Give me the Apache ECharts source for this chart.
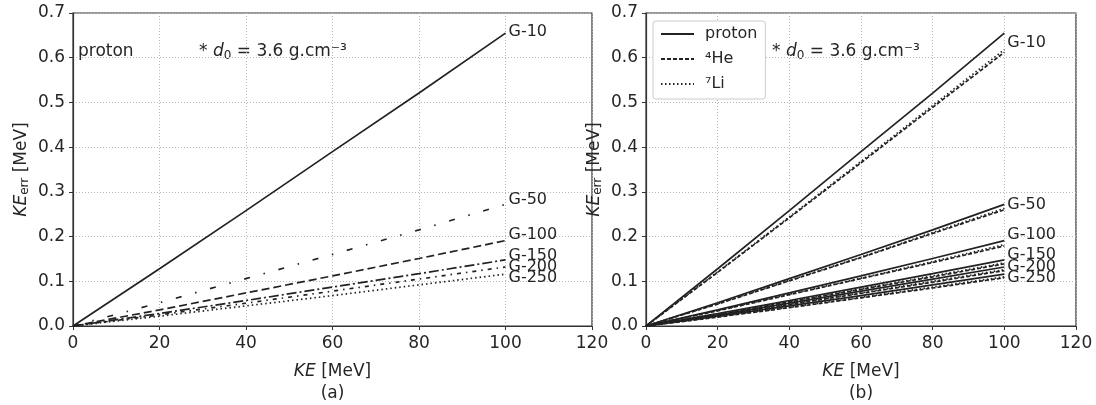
<!DOCTYPE html>
<html>
<head>
<meta charset="utf-8">
<script src="https://cdn.jsdelivr.net/npm/echarts@6/dist/echarts.min.js"></script>
<style>
  html, body { margin: 0; padding: 0; background: #fff; }
  #main { width: 1096px; height: 405px; }
</style>
</head>
<body>
<div id="main"></div>
<script>
// kinetic energy sample points [MeV]
const keVals = [0, 20, 40, 60, 80, 100];
const gNames = ['G-10', 'G-50', 'G-100', 'G-150', 'G-200', 'G-250'];

// KE_err [MeV]
const proton = [
  [0, 0.128, 0.258, 0.390, 0.521, 0.655],
  [0, 0.052, 0.106, 0.160, 0.215, 0.272],
  [0, 0.036, 0.074, 0.112, 0.151, 0.191],
  [0, 0.028, 0.057, 0.087, 0.117, 0.148],
  [0, 0.025, 0.051, 0.078, 0.105, 0.132],
  [0, 0.022, 0.045, 0.068, 0.092, 0.116]
];
const he4 = [
  [0, 0.120, 0.242, 0.365, 0.489, 0.612],
  [0, 0.049, 0.101, 0.153, 0.207, 0.260],
  [0, 0.034, 0.070, 0.106, 0.142, 0.179],
  [0, 0.026, 0.054, 0.082, 0.110, 0.139],
  [0, 0.023, 0.048, 0.073, 0.098, 0.124],
  [0, 0.020, 0.041, 0.063, 0.085, 0.108]
];
const li7 = [
  [0, 0.121, 0.244, 0.368, 0.493, 0.618],
  [0, 0.050, 0.102, 0.154, 0.209, 0.263],
  [0, 0.035, 0.071, 0.107, 0.144, 0.182],
  [0, 0.027, 0.055, 0.083, 0.112, 0.141],
  [0, 0.024, 0.049, 0.074, 0.100, 0.126],
  [0, 0.021, 0.042, 0.064, 0.087, 0.110]
];
// where the G-xx labels sit (y in MeV, at KE = 100)
const labelYa = [0.658, 0.282, 0.203, 0.157, 0.132, 0.107];
const labelYb = [0.633, 0.271, 0.203, 0.159, 0.132, 0.107];

const ink = '#222';
const txt = '#262626';
const font = 'DejaVu Sans';
// line styles of panel (a)
const dashA = ['solid', [6, 14, 1.5, 14], [8, 4], [10, 3, 2, 3], [4, 5, 1.5, 5], [1.5, 3]];

const pairs = ys => keVals.map((x, i) => [x, ys[i]]);

function lineSeries(name, ys, idx, type) {
  return {
    name: name, type: 'line', xAxisIndex: idx, yAxisIndex: idx,
    data: pairs(ys), symbol: 'none', silent: true,
    lineStyle: { color: ink, width: 1.7, type: type },
    itemStyle: { color: ink }
  };
}

function labelSeries(ys, idx) {
  return {
    type: 'scatter', xAxisIndex: idx, yAxisIndex: idx, silent: true,
    symbolSize: 0, itemStyle: { color: ink, opacity: 1 },
    data: ys.map((y, i) => ({ value: [100, y], name: gNames[i] })),
    label: {
      show: true, position: 'right', distance: 3, formatter: '{b}',
      color: txt, fontFamily: font, fontSize: 16
    }
  };
}

const series = [];
proton.forEach((ys, i) => series.push(lineSeries('a ' + gNames[i], ys, 0, dashA[i])));
series.push(labelSeries(labelYa, 0));
proton.forEach(ys => series.push(lineSeries('proton', ys, 1, 'solid')));
he4.forEach(ys => series.push(lineSeries('⁴He', ys, 1, [4, 2])));
li7.forEach(ys => series.push(lineSeries('⁷Li', ys, 1, [1.5, 2.5])));
series.push(labelSeries(labelYb, 1));

function xAx(idx, tag) {
  return {
    type: 'value', gridIndex: idx, min: 0, max: 120, interval: 20,
    name: '{i|KE} [MeV]\n(' + tag + ')', nameLocation: 'middle', nameGap: 35,
    nameTextStyle: {
      color: txt, fontFamily: font, fontSize: 17, lineHeight: 22,
      rich: { i: { fontStyle: 'italic', fontFamily: font, fontSize: 17, color: txt } }
    },
    axisLine: { show: true, lineStyle: { color: '#333', width: 1.2 } },
    axisTick: { show: true, length: 4, lineStyle: { color: '#333' } },
    axisLabel: { color: txt, fontFamily: font, fontSize: 17, margin: 9 },
    splitLine: { show: true, lineStyle: { color: '#b5b5b5', type: [1, 2], width: 1 } }
  };
}

function yAx(idx) {
  return {
    type: 'value', gridIndex: idx, min: 0, max: 0.7, interval: 0.1,
    name: '{i|KE}{s|err} [MeV]', nameLocation: 'middle', nameGap: 42, nameRotate: 90,
    nameTextStyle: {
      color: txt, fontFamily: font, fontSize: 17,
      rich: {
        i: { fontStyle: 'italic', fontFamily: font, fontSize: 17, color: txt },
        s: { fontFamily: font, fontSize: 12, color: txt, verticalAlign: 'bottom', padding: [6, 0, 0, 0] }
      }
    },
    axisLine: { show: true, lineStyle: { color: '#333', width: 1.2 } },
    axisTick: { show: true, length: 4, lineStyle: { color: '#333' } },
    axisLabel: { color: txt, fontFamily: font, fontSize: 17, margin: 8,
      formatter: v => v.toFixed(1) },
    splitLine: { show: true, lineStyle: { color: '#b5b5b5', type: [1, 2], width: 1 } }
  };
}

const noteRich = {
  i: { fontStyle: 'italic', fontFamily: font, fontSize: 17, fill: txt },
  s: { fontFamily: font, fontSize: 12, fill: txt, verticalAlign: 'bottom', padding: [8, 0, 0, 0] }
};
const noteFont = '17px "DejaVu Sans"';

let myChart = echarts.init(document.getElementById('main'));
myChart.setOption({
  animation: false,
  backgroundColor: '#fff',
  grid: [
    { left: 73, right: 504, top: 13, bottom: 79, outerBoundsMode: 'none', containLabel: false,
      show: true, borderColor: '#333', borderWidth: 1.2 },
    { left: 646, right: 20, top: 13, bottom: 79, outerBoundsMode: 'none', containLabel: false,
      show: true, borderColor: '#333', borderWidth: 1.2 }
  ],
  xAxis: [xAx(0, 'a'), xAx(1, 'b')],
  yAxis: [yAx(0), yAx(1)],
  legend: {
    data: ['proton', '⁴He', '⁷Li'],
    orient: 'vertical', left: 653, top: 21,
    padding: [5, 8, 7, 7], itemGap: 9, itemWidth: 33, itemHeight: 16,
    itemStyle: { color: 'rgba(0,0,0,0)', borderWidth: 0 },
    borderColor: '#ccc', borderWidth: 1, borderRadius: 3, backgroundColor: '#fff',
    textStyle: { color: txt, fontFamily: font, fontSize: 16, padding: [0, 0, 0, 6] }
  },
  graphic: [
    { type: 'text', left: 78, top: 43, style: { text: 'proton', font: noteFont, fill: txt } },
    { type: 'text', left: 199, top: 43, style: { text: '* {i|d}{s|0} = 3.6 g.cm⁻³', font: noteFont, fill: txt, rich: noteRich } },
    { type: 'text', left: 772, top: 43, style: { text: '* {i|d}{s|0} = 3.6 g.cm⁻³', font: noteFont, fill: txt, rich: noteRich } }
  ],
  series: series
});
</script>
</body>
</html>
